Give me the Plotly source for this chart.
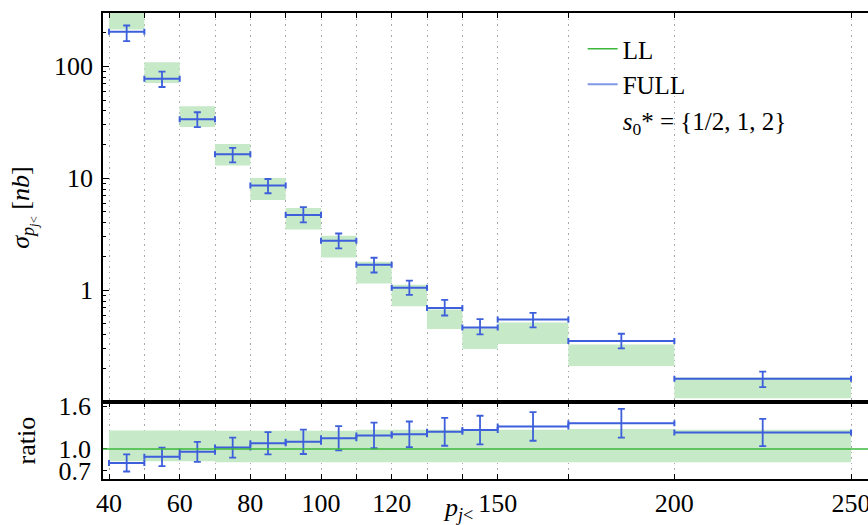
import plotly.graph_objects as go

# ---------------- data ----------------
bin_lo = [40, 50, 60, 70, 80, 90, 100, 110, 120, 130, 140, 150, 170, 200]
bin_hi = [50, 60, 70, 80, 90, 100, 110, 120, 130, 140, 150, 170, 200, 250]

# FULL cross section [nb] and its error-bar ends
full_val = [204, 77.6, 33.7, 16.4, 8.6, 4.71, 2.77, 1.69, 1.054, 0.695, 0.465, 0.547, 0.351, 0.162]
full_up = [232, 89.7, 38.9, 18.7, 9.86, 5.52, 3.21, 1.95, 1.22, 0.819, 0.551, 0.628, 0.408, 0.187]
full_dn = [168, 65.4, 28.7, 13.9, 7.35, 4.03, 2.36, 1.44, 0.908, 0.594, 0.403, 0.465, 0.302, 0.136]

# LL scale-variation band [nb]
ll_band_hi = [316, 108.6, 44.0, 20.2, 10.06, 5.44, 3.06, 1.80, 1.12, 0.671, 0.455, 0.514, 0.328, 0.166]
ll_band_lo = [214, 71.0, 28.7, 13.0, 6.4, 3.49, 1.96, 1.15, 0.72, 0.449, 0.298, 0.33, 0.21, 0.108]

# ratio panel (normalised to LL)
ratio_val = [0.805, 0.89, 0.96, 1.02, 1.08, 1.10, 1.15, 1.19, 1.205, 1.24, 1.265, 1.315, 1.36, 1.23]
ratio_err = [0.12, 0.13, 0.14, 0.14, 0.155, 0.17, 0.17, 0.18, 0.18, 0.195, 0.20, 0.20, 0.20, 0.19]
ratio_band_hi = [1.26, 1.26, 1.26, 1.255, 1.255, 1.255, 1.255, 1.27, 1.27, 1.27, 1.27, 1.27, 1.28, 1.27]
ratio_band_lo = [0.827, 0.827, 0.827, 0.813, 0.813, 0.813, 0.813, 0.813, 0.813, 0.813, 0.813, 0.813, 0.813, 0.813]
ll_ratio = 1.0

x_edges = [40, 50, 60, 70, 80, 90, 100, 110, 120, 130, 140, 150, 170, 200, 250]
x_labels = ["40", "", "60", "", "80", "", "100", "", "120", "", "", "150", "", "200", "250"]
y_ticks = [1, 10, 100]
y_labels = ["1", "10", "100"]
y_minor = [0.2, 0.3, 0.4, 0.5, 0.6, 0.7, 0.8, 0.9,
           2, 3, 4, 5, 6, 7, 8, 9,
           20, 30, 40, 50, 60, 70, 80, 90, 200, 300]
r_ticks = [0.7, 1.0, 1.6]
r_labels = ["0.7", "1.0", "1.6"]

# ---------------- style ----------------
BLUE = "#3d5fdb"
GREEN = "#3cb83c"
BAND = "#c6e9c8"
FONT = "Liberation Serif"

centers = [(a + b) / 2 for a, b in zip(bin_lo, bin_hi)]
half_w = [(b - a) / 2 for a, b in zip(bin_lo, bin_hi)]


def band_poly(lo, hi, blo, bhi):
    xs, ys = [], []
    for a, b, c, d in zip(lo, hi, blo, bhi):
        xs += [a, b, b, a, a, None]
        ys += [c, c, d, d, c, None]
    return xs, ys


fig = go.Figure()

# top panel band
bx, by = band_poly(bin_lo, bin_hi, ll_band_lo, ll_band_hi)
fig.add_trace(go.Scatter(x=bx, y=by, mode="lines", fill="toself", fillcolor=BAND,
                         line=dict(width=0, color=BAND), showlegend=False,
                         hoverinfo="skip", xaxis="x", yaxis="y"))

# top panel FULL
fig.add_trace(go.Scatter(
    x=centers, y=full_val, mode="markers", marker=dict(size=1, color=BLUE),
    error_x=dict(type="data", array=half_w, color=BLUE, thickness=2, width=3),
    error_y=dict(type="data", array=[u - v for u, v in zip(full_up, full_val)],
                 arrayminus=[v - d for v, d in zip(full_val, full_dn)],
                 color=BLUE, thickness=1.8, width=3.5),
    showlegend=False, xaxis="x", yaxis="y"))

# ratio band
rbx, rby = band_poly(bin_lo, bin_hi, ratio_band_lo, ratio_band_hi)
fig.add_trace(go.Scatter(x=rbx, y=rby, mode="lines", fill="toself", fillcolor=BAND,
                         line=dict(width=0, color=BAND), showlegend=False,
                         hoverinfo="skip", xaxis="x2", yaxis="y2"))

# ratio FULL
fig.add_trace(go.Scatter(
    x=centers, y=ratio_val, mode="markers", marker=dict(size=1, color=BLUE),
    error_x=dict(type="data", array=half_w, color=BLUE, thickness=2, width=3),
    error_y=dict(type="data", array=ratio_err, color=BLUE, thickness=1.8, width=3.5),
    showlegend=False, xaxis="x2", yaxis="y2"))

# LL reference line in ratio panel
fig.add_shape(type="line", xref="x2 domain", yref="y2", x0=0, x1=1, y0=ll_ratio, y1=ll_ratio,
              line=dict(color=GREEN, width=1.5), layer="above")

# legend entries
fig.add_trace(go.Scatter(x=[None], y=[None], mode="lines", name="LL",
                         line=dict(color=GREEN, width=1.5), legendgroup="a", xaxis="x", yaxis="y"))
fig.add_trace(go.Scatter(x=[None], y=[None], mode="lines", name="FULL",
                         line=dict(color="#7f98e8", width=2), legendgroup="b", xaxis="x", yaxis="y"))
fig.add_trace(go.Scatter(x=[None], y=[None], mode="lines",
                         name="<i>s</i><sub>0</sub>* = {1/2, 1, 2}",
                         line=dict(color="rgba(0,0,0,0)", width=0), legendgroup="c",
                         xaxis="x", yaxis="y"))

grid = dict(showgrid=True, gridcolor="#a8a8a8", griddash="1.5px,4px", gridwidth=1)

# x-axis title placed just under the tick labels, as in the reference
fig.add_annotation(text="<i>p</i><sub><i>j</i>&lt;</sub>", xref="paper", yref="paper",
                   x=0.464, y=-0.064, xanchor="center", yanchor="middle",
                   showarrow=False, font=dict(size=26))

fig.update_layout(
    width=868, height=525,
    margin=dict(l=103, r=0, t=13, b=46, autoexpand=False),
    paper_bgcolor="white", plot_bgcolor="white",
    font=dict(family=FONT, size=26, color="black"),
    showlegend=True,
    legend=dict(x=0.627, y=0.972, xanchor="left", yanchor="top",
                bgcolor="rgba(0,0,0,0)", font=dict(size=25), traceorder="grouped",
                tracegroupgap=0, itemwidth=30),
    xaxis=dict(domain=[0, 1], anchor="y", range=[38.3, 254.8], side="top",
               tickvals=x_edges, ticktext=[""] * len(x_edges), ticks="inside",
               ticklen=5, tickcolor="black", showline=True, linecolor="black",
               linewidth=2, mirror=True, zeroline=False, **grid),
    yaxis=dict(domain=[0.165, 1], anchor="x", type="log", range=[-1, 2.477],
               tickvals=y_ticks, ticktext=y_labels, ticks="inside", ticklen=6,
               tickwidth=1, tickcolor="black", showline=True, linecolor="black",
               linewidth=1.5, showgrid=False, zeroline=False, ticklabelstandoff=3,
               minor=dict(tickmode="array", tickvals=y_minor, ticks="inside", ticklen=3,
                          tickwidth=1, tickcolor="black", showgrid=False),
               title=dict(text="<i>σ</i><sub><i>p</i><sub><i>j</i>&lt;</sub></sub> [<i>nb</i>]",
                          standoff=17, font=dict(size=26))),
    xaxis2=dict(domain=[0, 1], anchor="y2", range=[38.3, 254.8], matches="x",
                tickvals=x_edges, ticktext=x_labels, ticks="inside", ticklen=5,
                tickcolor="black", showline=True, linecolor="black", linewidth=2,
                mirror="ticks", zeroline=False, ticklabelstandoff=0,
                ticklabeloverflow="allow", **grid),
    yaxis2=dict(domain=[0, 0.165], anchor="x2", range=[0.58, 1.656],
                tickvals=r_ticks, ticktext=r_labels, ticks="inside", ticklen=4,
                tickwidth=1, tickcolor="black", showline=True, linecolor="black",
                linewidth=1.5, showgrid=False, zeroline=False, ticklabelstandoff=5,
                title=dict(text="ratio", standoff=15, font=dict(size=26))),
)

fig.write_html("out.html", config={"displayModeBar": False},
               post_script="document.body.style.margin='0';")
